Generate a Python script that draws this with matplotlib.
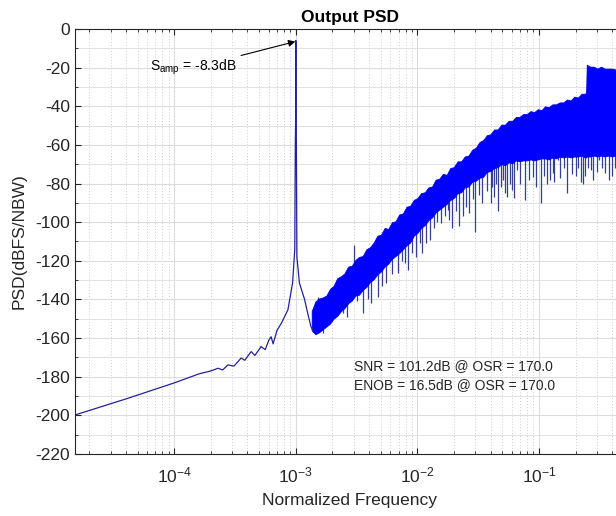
import numpy as np
import matplotlib
matplotlib.use('Agg')
import matplotlib.pyplot as plt

plt.rcParams['font.family'] = ['Liberation Sans', 'DejaVu Sans']
plt.rcParams['mathtext.fontset'] = 'custom'
plt.rcParams['mathtext.rm'] = 'Liberation Sans'
plt.rcParams['mathtext.it'] = 'Liberation Sans:italic'
plt.rcParams['axes.unicode_minus'] = False

# low frequency part + signal peak (single trace)
line_f = [1.526e-5, 4e-5, 1.0e-4, 1.21e-4, 1.6e-4, 2.0e-4, 2.29e-4, 2.5e-4, 2.76e-4,
          3.1e-4, 3.55e-4, 3.8e-4, 4.29e-4, 4.6e-4, 5.18e-4, 5.6e-4, 6.0e-4, 6.26e-4,
          6.5e-4, 7.0e-4, 7.6e-4, 8.6e-4, 9.4e-4, 9.8e-4, 9.9e-4, 9.96e-4, 1.0e-3,
          1.004e-3, 1.01e-3, 1.02e-3, 1.07e-3, 1.18e-3, 1.25e-3, 1.33e-3, 1.4e-3]
line_psd = [-199.8, -191.5, -183.2, -181.3, -178.5, -177.0, -175.6, -176.5, -173.9,
            -174.5, -170.3, -171.5, -167.0, -169.0, -164.4, -166.0, -161.0, -159.3,
            -163.0, -156.0, -152.3, -145.4, -131.5, -114.0, -59.0, -48.0, -6.0,
            -48.0, -59.0, -118.0, -131.5, -140.0, -147.0, -154.0, -157.0]

# shaped noise band (freq in units of 1e-3): upper and lower edge of the solid body
band_f_milli = [1.35, 1.45, 1.55, 1.66, 1.78, 1.91, 2.04, 2.19, 2.35, 2.51, 2.69, 2.89,
                3.09, 3.31, 3.55, 3.80, 4.07, 4.37, 4.68, 5.01, 5.37, 5.75, 6.17, 6.61,
                7.08, 7.59, 8.13, 8.71, 9.33, 10.0, 10.7, 11.5, 12.3, 13.2, 14.1, 15.1,
                16.2, 17.4, 18.6, 19.9, 21.4, 22.9, 24.5, 26.3, 28.2, 30.2, 32.4, 34.7,
                37.2, 39.8, 42.7, 45.7, 49.0, 52.5, 56.2, 60.3, 64.6, 69.2, 74.1, 79.4,
                85.1, 91.2, 97.7, 104.7, 112.2, 120.2, 128.8, 138.0, 147.9, 158.5, 169.8,
                182.0, 195.0, 208.9, 223.9, 240.0, 244.0, 247.0, 263.0, 282.0, 302.0,
                324.0, 347.0, 372.0, 398.0, 427.0, 457.0, 500.0]
band_top = [-146, -141, -139.5, -139, -138, -134.5, -133, -129, -128, -126.5, -123, -122.5,
            -119.5, -118, -117.5, -114, -113, -110.5, -107, -106.5, -103, -103.5, -100, -99.5,
            -96, -95.5, -92, -91.5, -88.5, -87.5, -85, -84.5, -82, -81.5, -78, -77.5,
            -75, -75.5, -72, -71.5, -68.5, -68.5, -66, -65.5, -62.5, -61.5, -58.5, -57.5,
            -55, -54.5, -52, -52, -49.5, -49.5, -47.5, -47.5, -45.5, -45.5, -44, -44,
            -42.5, -43, -41.5, -42, -40, -40.5, -39, -39, -38, -38, -36.5,
            -37, -35, -35.5, -33.5, -33.5, -32.5, -18.5, -19.5, -19.5, -20.5,
            -19.5, -20.5, -20.5, -20.5, -21, -20.5, -21]
band_bot = [-156, -158, -157, -155.5, -154, -152.5, -150, -148.5, -146, -144.5, -142, -140.5,
            -138, -137.5, -135, -133.5, -131, -129.5, -127, -125.5, -123, -121.5, -119, -117.5,
            -116, -114, -112, -110.5, -107, -105.5, -103, -101.5, -99, -97.5, -95, -93.5,
            -92, -90.5, -88.5, -87.5, -85, -84.5, -82, -81.5, -79, -78.5, -77, -76.5,
            -74, -73.5, -72, -71.5, -70, -70.5, -69, -69.5, -68, -68.5, -68, -68,
            -67.5, -68, -67.5, -67, -67, -67.5, -66.5, -67, -66, -66.5, -66,
            -66.5, -66, -66, -65.5, -66.5, -66.5, -66, -66, -65.5, -66,
            -65.5, -66, -65.5, -66, -65.5, -66, -65.5]

# downward spikes below the body (freq in units of 1e-3)
spike_f_milli = [1.38, 1.66, 2.06, 2.43, 2.63, 3.55, 4.15, 4.7, 5.5, 6.9, 7.5, 8.3,
                 9.8, 11.0, 11.7, 12.8, 13.7, 15.6, 17.8, 19.4, 22.0, 23.5, 26.6, 30.0,
                 34.0, 40.0, 41.0, 42.5, 46.0, 49.0, 53.0, 55.0, 60.0, 62.0, 66.0, 76.0,
                 89.0, 104.0, 117.0, 130.0, 133.0, 143.0, 160.0, 171.0, 200.0, 220.0,
                 230.0, 267.0, 280.0, 310.0, 350.0, 375.0, 420.0, 450.0,
                 3.2, 3.9, 5.1, 6.2, 7.9, 9.1, 10.4, 14.5, 16.8, 18.2, 20.8, 25.0,
                 28.5, 32.0, 37.0, 44.0, 51.0, 57.5, 70.0, 82.0, 95.0, 110.0, 122.0,
                 150.0, 185.0, 210.0, 240.0, 255.0, 300.0, 330.0, 400.0, 480.0]
spike_lo = [-156.7, -157.5, -144, -147, -149, -147, -142, -138.5, -131.6, -126.4, -120, -124.7,
            -117.8, -116, -111, -109, -103, -100.6, -93.7, -103, -102, -97, -95.4, -105,
            -90, -90, -82, -86.8, -94, -81.6, -85, -86.8, -83.3, -87.6, -73, -88.5,
            -76.4, -90.2, -80, -74.7, -79, -68, -72, -85, -76, -79,
            -80, -73, -78, -68, -74.7, -78, -72, -75,
            -141, -140, -133, -127, -121, -116, -111, -100, -97, -99, -94, -92,
            -88, -86, -84, -80, -78, -80, -80, -78, -82, -76, -78,
            -77, -75, -72, -76, -72, -74, -72, -76, -71]
spike_top = [-152, -152, -140, -140, -140, -130, -126, -122, -118, -112, -110, -108,
             -102, -100, -98, -96, -94, -90, -88, -86, -82, -82, -80, -77,
             -74, -72, -72, -70, -70, -68, -68, -68, -67, -67, -66, -66,
             -65, -65, -65, -63, -63, -63, -63, -63, -63, -63,
             -63, -63, -63, -63, -63, -63, -63, -63,
             -134, -130, -122, -115, -110, -104, -100, -92, -88, -86, -82, -79,
             -76, -74, -72, -70, -68, -67, -66, -66, -65, -65, -64,
             -64, -64, -64, -64, -64, -64, -64, -64, -64]

# upward spikes above the body
up_f = [1.51e-3, 1.75e-3, 3.03e-3]
up_lo = [-145, -145, -125]
up_hi = [-138.5, -139, -111.8]

band_f = np.array(band_f_milli) * 1e-3
spike_f = np.array(spike_f_milli) * 1e-3

fig = plt.figure(figsize=(6.16, 5.16), dpi=100)
ax = fig.add_axes([75 / 616, 62 / 516, 549 / 616, 425 / 516])

blue = '#0000ff'
ax.vlines(spike_f, spike_lo, spike_top, color='#34408f', lw=0.9, zorder=3)
ax.vlines(up_f, up_lo, up_hi, color='#34408f', lw=0.9, zorder=3)
ax.fill_between(band_f, band_bot, band_top, color=blue, lw=0.6, edgecolor=blue, zorder=4)
ax.plot(line_f, line_psd, color='#22229a', lw=0.9, zorder=5)

ax.set_xscale('log')
ax.set_xlim(1.526e-5, 0.5)
ax.set_ylim(-220, 0)
ax.set_yticks(np.arange(-220, 1, 20))
ax.set_yticks(np.arange(-210, 0, 20), minor=True)

ax.grid(True, which='major', color='#dcdcdc', lw=0.8, ls='-')
ax.grid(True, which='minor', axis='x', color='#cccccc', lw=0.7, ls=(0, (1, 2)))
ax.grid(True, which='minor', axis='y', color='#e2e2e2', lw=0.7, ls='-')
ax.set_axisbelow(True)

for s in ax.spines.values():
    s.set_color('#262626')
    s.set_linewidth(0.8)
ax.tick_params(which='both', direction='in', top=True, right=True, colors='#262626',
               labelsize=12.5, labelcolor='#262626')
ax.tick_params(which='major', length=4)
ax.tick_params(which='minor', length=2)
ax.tick_params(axis='x', pad=8)

ax.set_title('Output PSD', fontsize=12.5, fontweight='bold', pad=5)
ax.set_xlabel('Normalized Frequency', fontsize=12.5, color='#262626', labelpad=6)
ax.set_ylabel('PSD(dBFS/NBW)', fontsize=12.5, color='#262626', labelpad=6)

ax.annotate(r'S$_{\rm amp}$ = -8.3dB', xy=(9.9e-4, -6.5), xytext=(6.35e-5, -20),
            fontsize=10, ha='left', va='center', zorder=6,
            arrowprops=dict(arrowstyle='-|>', color='black', lw=0.8, shrinkA=1, shrinkB=0))
ax.text(3.0e-3, -174.5, 'SNR = 101.2dB @ OSR = 170.0', fontsize=10, va='center', color='#262626')
ax.text(3.0e-3, -184.5, 'ENOB = 16.5dB @ OSR = 170.0', fontsize=10, va='center', color='#262626')

plt.savefig('out.png', dpi=100)
